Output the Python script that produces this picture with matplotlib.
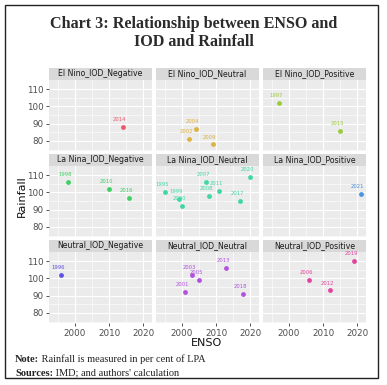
import matplotlib.pyplot as plt
from matplotlib.patches import Rectangle

# data: one list per facet (year on ENSO axis, rainfall % of LPA)
facets = ["El Nino_IOD_Negative", "El Nino_IOD_Neutral", "El Nino_IOD_Positive",
          "La Nina_IOD_Negative", "La Nina_IOD_Neutral", "La Nina_IOD_Positive",
          "Neutral_IOD_Negative", "Neutral_IOD_Neutral", "Neutral_IOD_Positive"]
years = [[2014], [2002, 2004, 2009], [1997, 2015],
         [1998, 2010, 2016], [1995, 1999, 2000, 2007, 2008, 2011, 2017, 2020], [2021],
         [1996], [2001, 2003, 2005, 2013, 2018], [2006, 2012, 2019]]
rain = [[88], [81, 87, 78], [102, 86],
        [106, 102, 97], [100, 96, 92, 106, 98, 101, 95, 109], [99],
        [102], [92, 102, 99, 106, 91], [99, 93, 110]]
colors = ["#EC5A68", "#DDB240", "#9CCB3A", "#3FCF62", "#3FD7A2", "#4A93DD",
          "#5F52E0", "#B052DF", "#E0449C"]

W, H = 387, 385
fig = plt.figure(figsize=(W / 100, H / 100), dpi=100)

def ax_at(x0, y0, w, h):
    return fig.add_axes([x0 / W, 1 - (y0 + h) / H, w / W, h / H])

# outer frame
fig.patches.append(Rectangle((5 / W, 1 - 378 / H), 373 / W, 373 / H, transform=fig.transFigure,
                             fill=False, edgecolor="#222222", lw=1.0))

fig.text(0.5, 1 - 24 / H, "Chart 3: Relationship between ENSO and", ha="center", va="center",
         fontsize=11.6, fontweight="bold", family="Liberation Serif", color="#2b2b2b")
fig.text(0.5, 1 - 42 / H, "IOD and Rainfall", ha="center", va="center",
         fontsize=11.6, fontweight="bold", family="Liberation Serif", color="#2b2b2b")

col_x = [49, 156, 263]
row_y = [68, 154, 240]
pw, strip_h, ph = 103, 12, 71

for i, name in enumerate(facets):
    r, c = divmod(i, 3)
    x0, y0 = col_x[c], row_y[r]
    st = ax_at(x0, y0, pw, strip_h)
    st.set_facecolor("#D9D9D9")
    st.set_xticks([])
    st.set_yticks([])
    for s in st.spines.values():
        s.set_visible(False)
    st.text(0.5, 0.5, name, ha="center", va="center", fontsize=5.6, color="#1A1A1A",
            transform=st.transAxes)

    ax = ax_at(x0, y0 + strip_h, pw, ph)
    ax.set_facecolor("#EBEBEB")
    for s in ax.spines.values():
        s.set_visible(False)
    ax.set_xlim(1992.4, 2022.6)
    ax.set_ylim(74.2, 115.2)
    ax.set_xticks([2000, 2010, 2020])
    ax.set_xticks([1995, 2005, 2015], minor=True)
    ax.set_yticks([80, 90, 100, 110])
    ax.set_yticks([75, 85, 95, 105], minor=True)
    ax.grid(which="major", color="white", lw=0.8)
    ax.grid(which="minor", color="white", lw=0.4)
    ax.set_axisbelow(True)
    ax.tick_params(which="major", length=2.5, width=0.6, color="#333333",
                   labelsize=6.3, labelcolor="#4D4D4D", pad=1.5)
    ax.tick_params(which="minor", length=0)
    if c != 0:
        ax.tick_params(axis="y", which="major", length=0, labelleft=False)
    if r != 2:
        ax.tick_params(axis="x", which="major", length=0, labelbottom=False)

    ax.scatter(years[i], rain[i], s=12, color=colors[i], zorder=3, linewidths=0)
    for yr, v in zip(years[i], rain[i]):
        ax.annotate(str(yr), (yr, v), xytext=(-2, 3.5), textcoords="offset points",
                    ha="center", va="bottom", fontsize=3.8, color=colors[i], zorder=4)

fig.text(22 / W, 1 - 196 / H, "Rainfall", rotation=90, ha="center", va="center",
         fontsize=8, color="#111111")
fig.text(207 / W, 1 - 343 / H, "ENSO", ha="center", va="center", fontsize=8, color="#111111")

# footnotes: bold lead-in followed by regular text
renderer = fig.canvas.get_renderer()
for ypx, bold, rest in [(359, "Note:", " Rainfall is measured in per cent of LPA"),
                        (373, "Sources:", " IMD; and authors' calculation")]:
    t = fig.text(15 / W, 1 - ypx / H, bold, ha="left", va="center", fontsize=7.5,
                 fontweight="bold", family="Liberation Serif", color="#222222")
    bb = t.get_window_extent(renderer)
    fig.text(bb.x1 / W, 1 - ypx / H, rest, ha="left", va="center", fontsize=7.5,
             family="Liberation Serif", color="#222222")

fig.savefig("out.png", dpi=100)
